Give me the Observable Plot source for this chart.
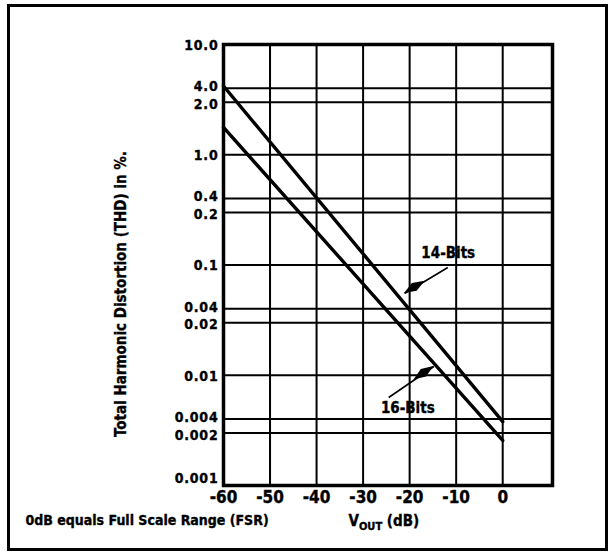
<!DOCTYPE html>
<html><head><meta charset="utf-8">
<script src="https://cdn.jsdelivr.net/npm/d3@7"></script>
<script src="https://cdn.jsdelivr.net/npm/@observablehq/plot@0.6"></script>
<style>
body{margin:0;background:#fff;}
#wrap{position:relative;width:614px;height:553px;background:#fff;}
#border{position:absolute;left:7px;top:4px;width:601px;height:547px;border:3px solid #000;box-sizing:border-box;pointer-events:none;}
svg{font-family:"Liberation Sans Narrow","DejaVu Sans Condensed",sans-serif;font-weight:700;}
svg text{stroke:#000;stroke-width:0.35px;}
</style>
</head><body>
<div id="wrap"><div id="border"></div></div>
<script>
// Axis ticks (as printed)
const xTicks = [-60, -50, -40, -30, -20, -10, 0];
const xTickLabels = ["-60", "-50", "-40", "-30", "-20", "-10", "0"];
const yTicks = [10, 4, 3, 1, 0.4, 0.3, 0.1, 0.04, 0.03, 0.01, 0.004, 0.003, 0.001];
const yTickLabels = ["10.0", "4.0", "2.0", "1.0", "0.4", "0.2", "0.1", "0.04", "0.02", "0.01", "0.004", "0.002", "0.001"];

// Series (VOUT in dB, THD in %)
const vout = [-60, 0];
const thd14 = [4.2, 0.0038];
const thd16 = [1.77, 0.00256];

// Annotations
const annText = ["14-Bits", "16-Bits"];
const annX = [-11.7, -20.4];
const annY = [0.127, 0.0050];
const arrowX1 = [-11.8, -24.5];
const arrowY1 = [0.0949, 0.00628];
const arrowX2 = [-21.1, -14.8];
const arrowY2 = [0.0551, 0.0120];

const yTitle = "Total Harmonic Distortion (THD) in %.";
const note = "0dB equals Full Scale Range (FSR)";
const xTitle = "VOUT (dB)";

const rows = [
  ...vout.map((v, i) => ({series: "14-Bits", vout: v, thd: thd14[i]})),
  ...vout.map((v, i) => ({series: "16-Bits", vout: v, thd: thd16[i]}))
];
const arrows = arrowX1.map((d, i) => ({x1: d, y1: arrowY1[i], x2: arrowX2[i], y2: arrowY2[i]}));

// tick labels grouped by placement: upper / lower of the tight pairs, top & bottom ends, the rest
const yTickIdx = yTicks.map((d, i) => i);
const upperPair = yTickIdx.filter(i => String(yTicks[i]).replace(/[0.]/g, "") === "4");
const lowerPair = yTickIdx.filter(i => String(yTicks[i]).replace(/[0.]/g, "") === "3");
const lastIdx = [yTicks.length - 1];
const single = yTickIdx.filter(i => !upperPair.includes(i) && !lowerPair.includes(i) && !lastIdx.includes(i));

function arrowheads(index, scales) {
  const g = d3.create("svg:g");
  for (const a of arrows) {
    const x1 = scales.x(a.x1), y1 = scales.y(a.y1), x2 = scales.x(a.x2), y2 = scales.y(a.y2);
    const t = Math.atan2(y2 - y1, x2 - x1), c = Math.cos(t), s = Math.sin(t);
    const L = 24, M = 12, W = 4.6;
    const mx = x2 - M * c, my = y2 - M * s, bx = x2 - L * c, by = y2 - L * s;
    g.append("path")
      .attr("d", `M${x2},${y2}L${mx - s * W},${my + c * W}L${bx},${by}L${mx + s * W},${my - c * W}Z`)
      .attr("fill", "black");
  }
  return g.node();
}

const yLabelOpts = (dy) => ({frameAnchor: "left", y: i => yTicks[i], text: i => yTickLabels[i], textAnchor: "end", dx: -5, dy, fontSize: 14, fontWeight: 700});

const plot = Plot.plot({
  width: 614,
  height: 553,
  marginLeft: 223,
  marginRight: 62,
  marginTop: 44,
  marginBottom: 68,
  style: {background: "transparent", overflow: "visible"},
  x: {domain: [-60, 10.7], axis: null},
  y: {type: "log", domain: [0.001, 10], axis: null},
  marks: [
    Plot.ruleX(xTicks.slice(1), {stroke: "black", strokeWidth: 2}),
    Plot.ruleY(yTicks, {stroke: "black", strokeWidth: 2}),
    Plot.line(rows, {x: "vout", y: "thd", z: "series", stroke: "black", strokeWidth: 3.4}),
    Plot.frame({stroke: "black", strokeWidth: 3.5}),
    Plot.text(single, yLabelOpts(1)),
    Plot.text(upperPair, yLabelOpts(-1.8)),
    Plot.text(lowerPair, yLabelOpts(2.2)),
    Plot.text(lastIdx, yLabelOpts(-7)),
    Plot.text(xTicks, {frameAnchor: "bottom", x: d => d, text: (d, i) => xTickLabels[i], dy: 12, lineAnchor: "middle", fontSize: 17, fontWeight: 700}),
    Plot.link(arrows, {x1: "x1", y1: "y1", x2: "x2", y2: "y2", stroke: "black", strokeWidth: 1.6}),
    arrowheads,
    Plot.text(annText, {x: (d, i) => annX[i], y: (d, i) => annY[i], text: d => d, fontSize: 15, fontWeight: 700}),
    Plot.text([yTitle], {frameAnchor: "left", text: d => d, rotate: -90, textAnchor: "middle", dx: -102, dy: 29, fontSize: 15, fontWeight: 700}),
    Plot.text([note], {frameAnchor: "bottom-left", text: d => d, textAnchor: "start", lineAnchor: "middle", dx: -198, dy: 35, fontSize: 14, fontWeight: 700}),
    Plot.text([xTitle], {frameAnchor: "bottom-left", text: d => d, textAnchor: "start", lineAnchor: "middle", dx: 125, dy: 36, fontSize: 15, fontWeight: 700})
  ]
});

// y tick labels: printed with open letter spacing
d3.select(plot).selectAll("text").filter(function() { return yTickLabels.includes(this.textContent); })
  .attr("letter-spacing", 0.8);

// subscript for V_OUT
d3.select(plot).selectAll("text").filter(function() { return this.textContent === xTitle; }).each(function() {
  const t = d3.select(this);
  t.text("");
  t.append("tspan").text("V");
  t.append("tspan").attr("font-size", 11).attr("dy", 4).text("OUT");
  t.append("tspan").attr("dy", -4).text(" (dB)");
});

document.getElementById("wrap").prepend(plot);
</script>
</body></html>
